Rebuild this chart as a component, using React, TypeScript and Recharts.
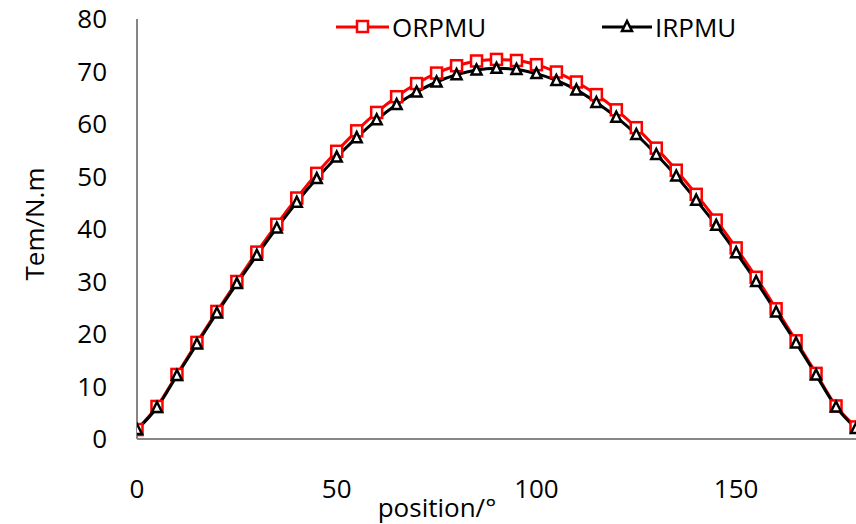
import React from 'react';
import { LineChart, Line, XAxis, YAxis, Legend } from 'recharts';

const positions = [0, 5, 10, 15, 20, 25, 30, 35, 40, 45, 50, 55, 60, 65, 70, 75, 80, 85, 90, 95, 100, 105, 110, 115, 120, 125, 130, 135, 140, 145, 150, 155, 160, 165, 170, 175, 180];
const orpmu = [1.8, 6.2, 12.3, 18.4, 24.3, 30.0, 35.6, 40.9, 45.9, 50.6, 54.8, 58.7, 62.2, 65.2, 67.7, 69.7, 71.1, 72.0, 72.3, 72.1, 71.3, 69.9, 68.0, 65.6, 62.7, 59.3, 55.4, 51.2, 46.6, 41.7, 36.4, 30.8, 24.8, 18.7, 12.5, 6.3, 2.3];
const irpmu = [1.8, 6.0, 12.1, 18.1, 24.0, 29.6, 35.0, 40.2, 45.1, 49.6, 53.7, 57.4, 60.8, 63.7, 66.1, 68.0, 69.4, 70.3, 70.6, 70.4, 69.6, 68.3, 66.5, 64.1, 61.3, 58.0, 54.2, 50.1, 45.5, 40.7, 35.5, 30.0, 24.2, 18.3, 12.2, 6.1, 2.0];
const xTicks = [0, 50, 100, 150];
const yTicks = [0, 10, 20, 30, 40, 50, 60, 70, 80];
const seriesNames = ['ORPMU', 'IRPMU'];

const data = positions.map((p, i) => ({ pos: p, ORPMU: orpmu[i], IRPMU: irpmu[i] }));

const FONT = '"Open Sans", sans-serif';
const FS = 26;

const SquareDot = (props: any) => {
  const { cx, cy, index } = props;
  if (cx == null || cy == null) return <g key={`s${index}`} />;
  return <rect key={`s${index}`} x={cx - 5.5} y={cy - 5.5} width={11} height={11} fill="#fff" stroke="#FF0000" strokeWidth={2.5} />;
};

const TriDot = (props: any) => {
  const { cx, cy, index } = props;
  if (cx == null || cy == null) return <g key={`t${index}`} />;
  const h = 9;
  const pts = `${cx},${cy - h / 2 - 1} ${cx - 5},${cy + h / 2} ${cx + 5},${cy + h / 2}`;
  return <polygon key={`t${index}`} points={pts} fill="#fff" stroke="#000" strokeWidth={2.5} strokeLinejoin="miter" />;
};

const LegendContent = () => (
  <svg width={856} height={50} style={{ display: 'block' }}>
    <line x1={336} y1={27} x2={389} y2={27} stroke="#FF0000" strokeWidth={3} />
    <rect x={357} y={21} width={11} height={11} fill="#fff" stroke="#FF0000" strokeWidth={2.5} />
    <text x={392} y={27} dominantBaseline="central" fontFamily={FONT} fontSize={FS} fill="#000">{seriesNames[0]}</text>
    <line x1={602} y1={27} x2={652} y2={27} stroke="#000" strokeWidth={3} />
    <polygon points="627,21 622,31 632,31" fill="#fff" stroke="#000" strokeWidth={2.5} />
    <text x={655} y={27} dominantBaseline="central" fontFamily={FONT} fontSize={FS} fill="#000">{seriesNames[1]}</text>
  </svg>
);

export default function App() {
  return (
    <div style={{ position: 'absolute', left: 0, top: 0, background: '#fff' }}>
      <LineChart width={856} height={524} data={data} margin={{ top: 19, right: 0, bottom: 0, left: 0 }}>
        <XAxis
          dataKey="pos"
          type="number"
          domain={[0, 180]}
          ticks={xTicks}
          allowDataOverflow
          height={85}
          axisLine={{ stroke: '#868686', strokeWidth: 2 }}
          tickLine={false}
          tickSize={0}
          tickMargin={41}
          tick={{ fill: '#000', fontSize: FS, fontFamily: FONT }}
          interval={0}
          label={() => (
            <text x={437} y={517} textAnchor="middle" fontFamily={FONT} fontSize={FS} fill="#000">position/°</text>
          )}
        />
        <YAxis
          type="number"
          domain={[0, 80]}
          ticks={yTicks}
          width={137}
          axisLine={{ stroke: '#868686', strokeWidth: 2 }}
          tickLine={false}
          tickSize={0}
          tickMargin={30}
          tick={{ fill: '#000', fontSize: FS, fontFamily: FONT }}
          interval={0}
          label={() => (
            <text x={34} y={224} transform="rotate(-90 34 224)" textAnchor="middle" dominantBaseline="central" fontFamily={FONT} fontSize={FS} fill="#000">Tem/N.m</text>
          )}
        />
        <Legend layout="horizontal" verticalAlign="middle" align="center" content={LegendContent} wrapperStyle={{ position: 'absolute', top: 0, left: 0, width: 856, height: 50 }} />
        <Line dataKey="ORPMU" type="monotone" stroke="#FF0000" strokeWidth={3} dot={SquareDot} activeDot={false} isAnimationActive={false} />
        <Line dataKey="IRPMU" type="monotone" stroke="#000000" strokeWidth={3} dot={TriDot} activeDot={false} isAnimationActive={false} />
      </LineChart>
    </div>
  );
}
